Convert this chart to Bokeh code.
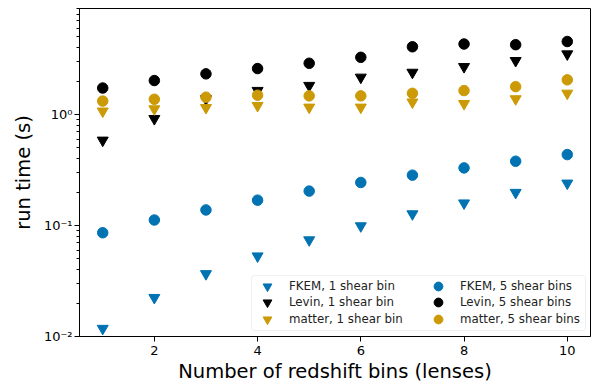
import numpy as np
from bokeh.plotting import figure
from bokeh.models import Legend, LegendItem, FixedTicker, BoxAnnotation
from bokeh.embed import file_html
from bokeh.resources import INLINE

# ---- data ----
n_bins = [1, 2, 3, 4, 5, 6, 7, 8, 9, 10]
fkem_1 = [0.0118, 0.0224, 0.0367, 0.053, 0.074, 0.099, 0.127, 0.159, 0.198, 0.24]
levin_1 = [0.585, 0.915, 1.38, 1.64, 1.82, 2.16, 2.39, 2.69, 3.05, 3.5]
matter_1 = [1.07, 1.12, 1.15, 1.2, 1.16, 1.16, 1.29, 1.25, 1.38, 1.55]
fkem_5 = [0.086, 0.112, 0.138, 0.169, 0.204, 0.244, 0.284, 0.33, 0.379, 0.435]
levin_5 = [1.73, 2.02, 2.32, 2.59, 2.89, 3.27, 4.07, 4.31, 4.25, 4.54]
matter_5 = [1.32, 1.37, 1.43, 1.49, 1.47, 1.47, 1.55, 1.64, 1.78, 2.05]

x_ticks = [2, 4, 6, 8, 10]
y_ticks = [0.01, 0.1, 1.0]
y_tick_labels = ["10\u207b\u00b2", "10\u207b\u00b9", "10\u2070"]

BLUE = "#0173B2"
BLACK = "#000000"
GOLD = "#CC9A06"
FONT = "DejaVu Sans"

p = figure(width=592, height=385, output_backend="svg", toolbar_location=None,
           x_range=(0.55, 10.45), y_range=(0.01, 9.0), y_axis_type="log",
           min_border_left=79, min_border_right=2, min_border_top=8,
           min_border_bottom=48)

p.grid.visible = False
p.outline_line_color = "black"
p.outline_line_width = 1
p.background_fill_color = "white"
p.border_fill_color = "white"

ST = 11
SC = 10.5
r1 = p.scatter(n_bins, fkem_1, marker="inverted_triangle", size=ST, color=BLUE)
r2 = p.scatter(n_bins, levin_1, marker="inverted_triangle", size=ST, color=BLACK)
r3 = p.scatter(n_bins, matter_1, marker="inverted_triangle", size=ST, color=GOLD)
r4 = p.scatter(n_bins, fkem_5, marker="circle", size=SC, color=BLUE)
r5 = p.scatter(n_bins, levin_5, marker="circle", size=SC, color=BLACK)
r6 = p.scatter(n_bins, matter_5, marker="circle", size=SC, color=GOLD)

# axes
p.xaxis.ticker = FixedTicker(ticks=x_ticks)
p.yaxis.ticker = FixedTicker(ticks=y_ticks,
                             minor_ticks=[v * m for v in y_ticks for m in range(2, 10)])
p.yaxis.major_label_overrides = {v: l for v, l in zip(y_ticks, y_tick_labels)}

for ax in (p.xaxis[0], p.yaxis[0]):
    ax.axis_line_color = "black"
    ax.major_tick_line_color = "black"
    ax.major_tick_out = 5
    ax.major_tick_in = 0
    ax.minor_tick_out = 3
    ax.minor_tick_in = 0
    ax.major_label_text_font = FONT
    ax.major_label_text_font_size = "13px"
    ax.major_label_text_color = "black"
    ax.axis_label_text_font = FONT
    ax.axis_label_text_font_size = "19.5px"
    ax.axis_label_text_font_style = "normal"
    ax.axis_label_text_color = "black"
p.xaxis.minor_tick_line_color = None
p.yaxis.minor_tick_line_color = "black"
p.xaxis.axis_label = "Number of redshift bins (lenses)"
p.yaxis.axis_label = "run time (s)"
p.xaxis.major_label_standoff = 4
p.xaxis.axis_label_standoff = 2
p.yaxis.major_label_standoff = 2
p.yaxis.axis_label_standoff = 6

# legend frame (screen units, relative to plot frame)
legend_box = BoxAnnotation(left=172, right=506, bottom=6, top=61,
                           left_units="screen", right_units="screen",
                           bottom_units="screen", top_units="screen",
                           fill_color="white", fill_alpha=0.8,
                           line_color="#cccccc", line_width=1, border_radius=3)
p.add_layout(legend_box)


def make_legend(label, renderer, loc):
    lg = Legend(items=[LegendItem(label=label, renderers=[renderer])], location=loc)
    lg.label_text_font = FONT
    lg.label_text_font_size = "11.8px"
    lg.label_text_color = "#222222"
    lg.glyph_height = 22
    lg.glyph_width = 30
    lg.label_height = 22
    lg.label_width = 20
    lg.spacing = 0
    lg.padding = 0
    lg.margin = 0
    lg.label_standoff = 7
    lg.border_line_color = None
    lg.background_fill_alpha = 0
    return lg


row_y = [39, 23, 6]
col_x = [173, 344]
labels_1 = ["FKEM, 1 shear bin", "Levin, 1 shear bin", "matter, 1 shear bin"]
labels_5 = ["FKEM, 5 shear bins", "Levin, 5 shear bins", "matter, 5 shear bins"]
for lab, r, y in zip(labels_1, [r1, r2, r3], row_y):
    p.add_layout(make_legend(lab, r, (col_x[0], y)))
for lab, r, y in zip(labels_5, [r4, r5, r6], row_y):
    p.add_layout(make_legend(lab, r, (col_x[1], y)))

open("out.html", "w").write(file_html(p, INLINE))
